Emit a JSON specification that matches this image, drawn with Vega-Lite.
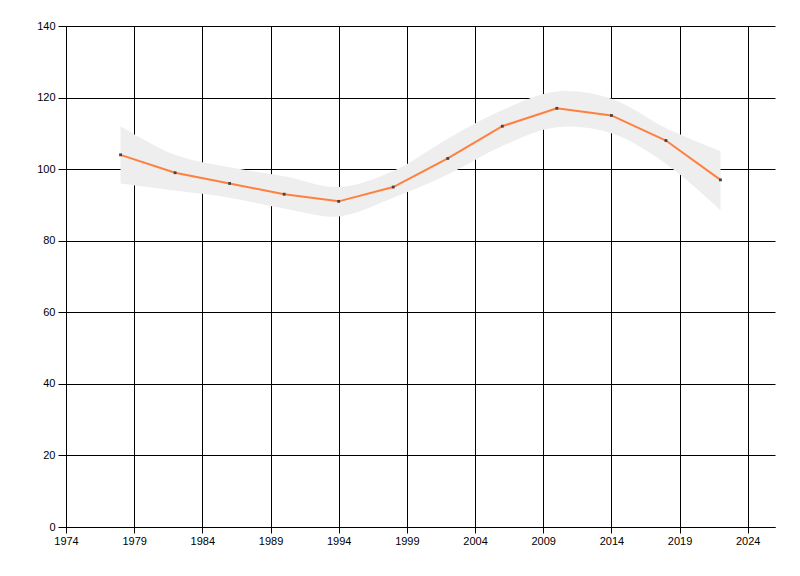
{
  "$schema": "https://vega.github.io/schema/vega-lite/v6.json",
  "width": 709,
  "height": 501,
  "autosize": {"type": "none"},
  "padding": {"left": 66, "top": 26, "right": 25, "bottom": 49},
  "background": "white",
  "config": {
    "view": {"stroke": null},
    "axis": {
      "gridColor": "#000000",
      "gridOpacity": 1,
      "gridWidth": 1,
      "domainColor": "#000000",
      "domainWidth": 1,
      "tickColor": "#000000",
      "tickWidth": 1,
      "labelColor": "#000000",
      "labelFont": "Liberation Sans",
      "labelFontSize": 11,
      "title": null
    }
  },
  "data": {
    "values": [
      {"year": 1978, "value": 104, "lo": 96, "hi": 112},
      {"year": 1982, "value": 99, "lo": 94, "hi": 104},
      {"year": 1986, "value": 96, "lo": 92, "hi": 100.5},
      {"year": 1990, "value": 93, "lo": 89, "hi": 98},
      {"year": 1994, "value": 91, "lo": 86.8, "hi": 95},
      {"year": 1998, "value": 95, "lo": 92, "hi": 99.5},
      {"year": 2002, "value": 103, "lo": 98.5, "hi": 108.5},
      {"year": 2006, "value": 112, "lo": 106.5, "hi": 116.5},
      {"year": 2010, "value": 117, "lo": 111.7, "hi": 121.7},
      {"year": 2014, "value": 115, "lo": 110, "hi": 119.7},
      {"year": 2018, "value": 108, "lo": 101.5, "hi": 111.5},
      {"year": 2022, "value": 97, "lo": 88.5, "hi": 105}
    ]
  },
  "encoding": {
    "x": {
      "field": "year",
      "type": "quantitative",
      "scale": {"domain": [1974, 2026], "nice": false, "zero": false},
      "axis": {
        "values": [1974, 1979, 1984, 1989, 1994, 1999, 2004, 2009, 2014, 2019, 2024],
        "format": "d",
        "grid": true,
        "tickSize": 6,
        "labelPadding": 2,
        "labelFlush": false,
        "labelOverlap": false
      }
    }
  },
  "layer": [
    {
      "mark": {"type": "area", "interpolate": "catmull-rom", "color": "#EEEEEE", "opacity": 1},
      "encoding": {
        "y": {"field": "lo", "type": "quantitative"},
        "y2": {"field": "hi"}
      }
    },
    {
      "mark": {"type": "line", "color": "#FF7F3F", "strokeWidth": 2},
      "encoding": {
        "y": {
          "field": "value",
          "type": "quantitative",
          "scale": {"domain": [0, 140], "nice": false},
          "axis": {
            "values": [0, 20, 40, 60, 80, 100, 120, 140],
            "grid": true,
            "tickSize": 8,
            "labelPadding": 3,
            "labelFlush": false,
            "labelOverlap": false
          }
        }
      }
    },
    {
      "mark": {"type": "point", "shape": "square", "filled": true, "size": 8, "color": "#444444", "opacity": 1},
      "encoding": {
        "y": {"field": "value", "type": "quantitative"}
      }
    }
  ]
}
